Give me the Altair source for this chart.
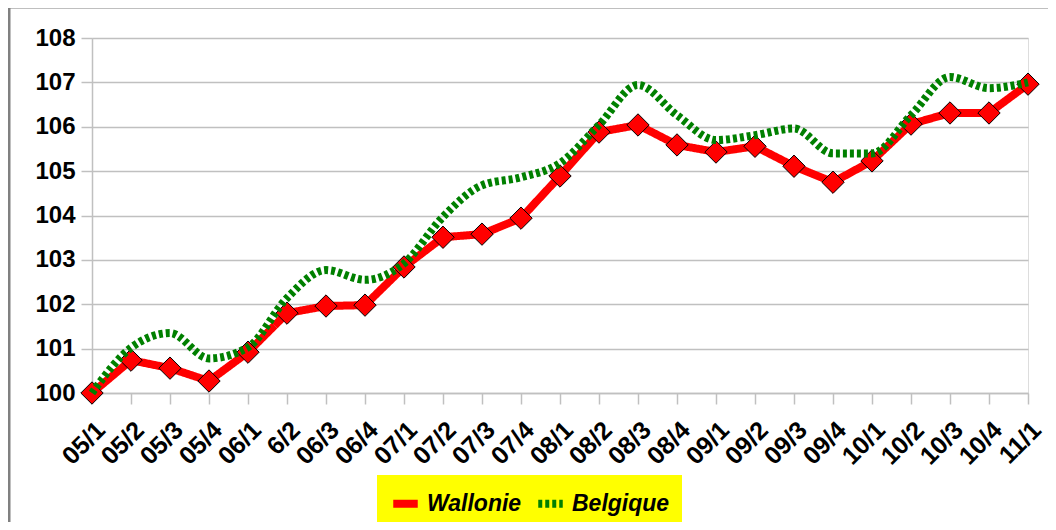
import altair as alt
import pandas as pd

quarters = ["05/1", "05/2", "05/3", "05/4", "06/1", "6/2", "06/3", "06/4",
            "07/1", "07/2", "07/3", "07/4", "08/1", "08/2", "08/3", "08/4",
            "09/1", "09/2", "09/3", "09/4", "10/1", "10/2", "10/3", "10/4", "11/1"]
wallonie = [100.0, 100.74, 100.56, 100.27, 100.92, 101.80, 101.96, 101.98,
            102.84, 103.51, 103.58, 103.94, 104.89, 105.88, 106.04, 105.59,
            105.43, 105.56, 105.11, 104.75, 105.23, 106.06, 106.31, 106.31, 106.96]
belgique = [100.0, 101.02, 101.35, 100.78, 101.03, 102.14, 102.77, 102.55,
            102.92, 103.97, 104.68, 104.86, 105.18, 106.04, 106.94, 106.26,
            105.70, 105.81, 105.96, 105.40, 105.40, 106.26, 107.12, 106.87, 107.0]
series_names = ["Wallonie", "Belgique"]
y_ticks = [100, 101, 102, 103, 104, 105, 106, 107, 108]

df = pd.concat([
    pd.DataFrame({"q": quarters, "v": wallonie, "s": "Wallonie"}),
    pd.DataFrame({"q": quarters, "v": belgique, "s": "Belgique"}),
], ignore_index=True)

FONT = "Liberation Sans"
GRID = "#c0c0c0"

x_enc = alt.X("q:N", sort=quarters, title=None,
              scale=alt.Scale(type="point", padding=0),
              axis=alt.Axis(labelAngle=-45, labelFontSize=25, labelFontWeight="bold",
                            labelFont=FONT, labelColor="black", labelAlign="right",
                            labelBaseline="top", labelPadding=13,
                            domain=True, domainColor=GRID, domainWidth=1.5,
                            ticks=True, tickColor=GRID, tickSize=11, tickWidth=1.5,
                            grid=False, labelOverlap=False))
y_enc = alt.Y("v:Q", title=None,
              scale=alt.Scale(domain=[100, 108], nice=False, zero=False),
              axis=alt.Axis(values=y_ticks, format="d", labelFontSize=24,
                            labelFontWeight="bold", labelFont=FONT, labelColor="black",
                            labelPadding=6, domainColor=GRID, domainWidth=1.5,
                            tickColor=GRID, tickSize=11, tickWidth=1.5,
                            grid=True, gridColor=GRID, gridWidth=1.5))
color_enc = alt.Color("s:N", title=None,
                      scale=alt.Scale(domain=series_names, range=["#ff0000", "#008000"]),
                      legend=alt.Legend(orient="none", legendX=285, legendY=437,
                                        direction="horizontal", fillColor="#ffff00",
                                        padding=12, labelFontSize=23, labelFont=FONT,
                                        labelFontWeight="bold", labelFontStyle="italic",
                                        labelColor="black", symbolType="stroke",
                                        symbolStrokeWidth=8, symbolSize=600,
                                        columnPadding=0, labelOffset=5))
dash_enc = alt.StrokeDash("s:N", title=None,
                          scale=alt.Scale(domain=series_names, range=[[1, 0], [4, 3]]),
                          legend=alt.Legend(orient="none", legendX=285, legendY=437,
                                            direction="horizontal"))

base = alt.Chart(df)

frame = alt.Chart(pd.DataFrame({"a": [0]})).mark_rect(
    fill=None, stroke="#808080", strokeWidth=3, clip=False
).encode(x=alt.value(-83), x2=alt.value(1200), y=alt.value(-31), y2=alt.value(700))

red_line = base.transform_filter(alt.datum.s == "Wallonie").mark_line(
    strokeWidth=8).encode(x=x_enc, y=y_enc, color=color_enc, strokeDash=dash_enc)
points = base.transform_filter(alt.datum.s == "Wallonie").mark_point(
    shape="diamond", filled=True, size=500, fill="#ff0000", stroke="black",
    strokeWidth=1, opacity=1).encode(x=x_enc, y=y_enc)
green_line = base.transform_filter(alt.datum.s == "Belgique").mark_line(
    strokeWidth=8, interpolate="monotone").encode(
    x=x_enc, y=y_enc, color=color_enc, strokeDash=dash_enc)

chart = alt.layer(frame, red_line, points, green_line).properties(
    width=936, height=355,
    autosize=alt.AutoSizeParams(type="none"),
    padding={"left": 84, "top": 30, "right": 20, "bottom": 129},
).configure_view(stroke=GRID, strokeWidth=1.5).configure(background="white")

chart.save("out.html", embed_options={"renderer": "svg", "actions": False})
